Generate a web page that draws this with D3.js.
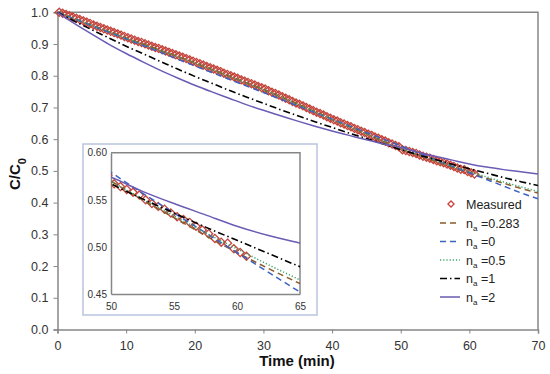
<!DOCTYPE html>
<html><head><meta charset="utf-8">
<script src="https://cdn.jsdelivr.net/npm/d3@7"></script>
<style>
body{margin:0;background:#fff;}
svg{display:block;font-family:"Liberation Sans",Arial,sans-serif;}
</style></head>
<body><svg id="c" width="550" height="374"></svg>
<script>
// ---- data ----
const measuredTime = [0.25,0.75,1.25,1.75,2.25,2.75,3.25,3.75,4.25,4.75,5.25,5.75,6.25,6.75,7.25,7.75,8.25,8.75,9.25,9.75,
10.25,10.75,11.25,11.75,12.25,12.75,13.25,13.75,14.25,14.75,15.25,15.75,16.25,16.75,17.25,17.75,18.25,18.75,19.25,19.75,
20.25,20.75,21.25,21.75,22.25,22.75,23.25,23.75,24.25,24.75,25.25,25.75,26.25,26.75,27.25,27.75,28.25,28.75,29.25,29.75,
30.25,30.75,31.25,31.75,32.25,32.75,33.25,33.75,34.25,34.75,35.25,35.75,36.25,36.75,37.25,37.75,38.25,38.75,39.25,39.75,
40.25,40.75,41.25,41.75,42.25,42.75,43.25,43.75,44.25,44.75,45.25,45.75,46.25,46.75,47.25,47.75,48.25,48.75,49.25,49.75,
50.25,50.75,51.25,51.75,52.25,52.75,53.25,53.75,54.25,54.75,55.25,55.75,56.25,56.75,57.25,57.75,58.25,58.75,59.25,59.75,
60.25,60.75];
const measuredC = [1.000,0.997,0.993,0.989,0.985,0.981,0.977,0.973,0.969,0.965,
0.960,0.956,0.952,0.948,0.944,0.940,0.936,0.932,0.928,0.924,
0.920,0.916,0.912,0.908,0.905,0.901,0.897,0.893,0.889,0.886,
0.882,0.878,0.874,0.870,0.866,0.862,0.858,0.854,0.850,0.846,
0.842,0.838,0.834,0.829,0.825,0.821,0.817,0.813,0.808,0.804,
0.800,0.796,0.792,0.787,0.783,0.779,0.775,0.771,0.766,0.762,
0.758,0.753,0.748,0.744,0.739,0.734,0.729,0.724,0.719,0.714,
0.710,0.705,0.700,0.695,0.690,0.685,0.681,0.676,0.671,0.666,
0.661,0.657,0.652,0.648,0.643,0.639,0.634,0.630,0.625,0.621,
0.616,0.612,0.607,0.603,0.598,0.594,0.589,0.585,0.580,0.576,
0.567,0.564,0.561,0.558,0.555,0.550,0.546,0.543,0.540,0.536,
0.532,0.529,0.526,0.522,0.518,0.514,0.509,0.505,0.504,0.498,
0.494,0.490];

const modelTime = [0,2.5,5,7.5,10,12.5,15,17.5,20,22.5,25,27.5,30,32.5,35,37.5,40,42.5,45,47.5,50,52.5,55,57.5,60,62.5,65,67.5,70];
const na0283 = [1.000,0.979,0.959,0.939,0.919,0.900,0.880,0.861,0.841,0.820,0.799,0.778,0.757,0.734,0.711,0.687,0.663,0.640,0.617,0.593,0.570,0.550,0.531,0.512,0.494,0.477,0.461,0.445,0.430];
const na0 = [1.000,0.979,0.958,0.937,0.916,0.895,0.874,0.852,0.831,0.810,0.789,0.768,0.747,0.726,0.705,0.684,0.663,0.642,0.621,0.600,0.579,0.557,0.536,0.515,0.494,0.473,0.452,0.431,0.412];
const na05 = [1.000,0.980,0.959,0.939,0.918,0.899,0.879,0.860,0.840,0.819,0.798,0.777,0.756,0.733,0.710,0.686,0.662,0.639,0.616,0.593,0.570,0.551,0.533,0.515,0.498,0.481,0.465,0.450,0.435];
const na1 = [1.000,0.972,0.945,0.919,0.893,0.869,0.845,0.821,0.798,0.776,0.754,0.733,0.713,0.693,0.674,0.655,0.637,0.619,0.602,0.585,0.567,0.551,0.536,0.521,0.507,0.493,0.479,0.466,0.454];
const na2 = [1.000,0.964,0.931,0.899,0.870,0.843,0.817,0.793,0.770,0.749,0.729,0.709,0.691,0.674,0.657,0.641,0.626,0.612,0.598,0.585,0.574,0.559,0.546,0.534,0.522,0.512,0.504,0.497,0.490];

const seriesNames = ["=0.283","=0","=0.5","=1","=2"];
const xTicks = [0,10,20,30,40,50,60,70];
const yTicks = [0,0.1,0.2,0.3,0.4,0.5,0.6,0.7,0.8,0.9,1.0];
const insetXTicks = [50,55,60,65];
const insetYTicks = [0.45,0.50,0.55,0.60];

// ---- styles ----
const styles = [
  {data:na0283, color:"#8B5A2B", dash:"6,4", w:1.5},
  {data:na0,    color:"#3B62C4", dash:"6,4", w:1.5},
  {data:na05,   color:"#3FA66A", dash:"1.2,2", w:1.5},
  {data:na1,    color:"#000000", dash:"7,3,1.5,3", w:1.6},
  {data:na2,    color:"#6B5BB5", dash:null, w:1.5}
];
const markerColor = "#C4453C";
const axisColor = "#868686";

const svg = d3.select("#c");

// ---- main plot ----
const x = d3.scaleLinear().domain([0,70]).range([57.5,538]);
const y = d3.scaleLinear().domain([0,1]).range([329.5,12.3]);

svg.append("defs").append("clipPath").attr("id","mainClip")
  .append("rect").attr("x",50).attr("y",5).attr("width",538-50).attr("height",329.5-5);
svg.select("defs").append("clipPath").attr("id","insetClip")
  .append("rect").attr("x",111).attr("y",152.7).attr("width",300-111).attr("height",294-152.7);

const xAxis = svg.append("g").attr("transform","translate(0,329.5)")
  .call(d3.axisBottom(x).tickValues(xTicks).tickSize(4).tickFormat(d3.format("d")));
const yAxis = svg.append("g").attr("transform","translate(57.5,0)")
  .call(d3.axisLeft(y).tickValues(yTicks).tickSize(4).tickFormat(d3.format(".1f")));
[xAxis,yAxis].forEach(a=>{
  a.select(".domain").attr("stroke",axisColor).attr("stroke-width",1.5);
  a.selectAll(".tick line").attr("stroke",axisColor);
  a.selectAll("text").attr("fill","#333").style("font-size","12.5px").style("font-family","Liberation Sans, Arial, sans-serif");
});
xAxis.selectAll("text").attr("dy","1.05em");
yAxis.selectAll("text").attr("x",-9);
// frame top/right
svg.append("path").attr("d",`M57.5,12.3H538V329.5`).attr("fill","none").attr("stroke",axisColor).attr("stroke-width",1.5);

const diamond = d3.symbol().type(d3.symbolDiamond2).size(42);

function drawMarkers(g, xs, ys, clip){
  g.append("g").attr("clip-path",`url(#${clip})`).selectAll("path")
    .data(measuredTime.map((t,i)=>[t,measuredC[i]]))
    .join("path")
    .attr("d",diamond)
    .attr("transform",d=>`translate(${xs(d[0])},${ys(d[1])})`)
    .attr("fill","none").attr("stroke",markerColor).attr("stroke-width",1.3);
}
function drawLines(g, xs, ys, clip){
  const lg = g.append("g").attr("clip-path",`url(#${clip})`);
  styles.forEach(s=>{
    const line = d3.line().x((d,i)=>xs(modelTime[i])).y(d=>ys(d)).curve(d3.curveMonotoneX);
    lg.append("path").attr("d",line(s.data)).attr("fill","none")
      .attr("stroke",s.color).attr("stroke-width",s.w)
      .attr("stroke-dasharray",s.dash);
  });
}
const mainG = svg.append("g");
drawMarkers(mainG, x, y, "mainClip");
drawLines(mainG, x, y, "mainClip");

// axis titles
svg.append("text").attr("x",297).attr("y",366).attr("text-anchor","middle")
  .style("font-size","15px").style("font-weight","bold").attr("fill","#111").text("Time (min)");
const yt = svg.append("text").attr("transform","translate(20,174) rotate(-90)").attr("text-anchor","middle")
  .style("font-size","15px").style("font-weight","bold").attr("fill","#111");
yt.append("tspan").text("C/C");
yt.append("tspan").attr("baseline-shift","sub").style("font-size","11px").text("0");

// ---- inset ----
const xi = d3.scaleLinear().domain([50,65]).range([111,300]);
const yi = d3.scaleLinear().domain([0.45,0.60]).range([294,152.7]);
svg.append("rect").attr("x",83).attr("y",144).attr("width",317-83).attr("height",315-144)
  .attr("fill","#fff").attr("stroke","#B8C4E0").attr("stroke-width",1.5);
const ixA = svg.append("g").attr("transform","translate(0,294)")
  .call(d3.axisBottom(xi).tickValues(insetXTicks).tickSize(0).tickFormat(d3.format("d")));
const iyA = svg.append("g").attr("transform","translate(111,0)")
  .call(d3.axisLeft(yi).tickValues(insetYTicks).tickSize(0).tickFormat(d3.format(".2f")));
[ixA,iyA].forEach(a=>{
  a.select(".domain").attr("stroke",axisColor).attr("stroke-width",1.5);
  a.selectAll("text").attr("fill","#333").style("font-size","10px").style("font-family","Liberation Sans, Arial, sans-serif");
});
ixA.selectAll("text").attr("dy","1.25em");
iyA.selectAll("text").attr("x",-4);
svg.append("path").attr("d",`M111,152.7H300V294`).attr("fill","none").attr("stroke",axisColor).attr("stroke-width",1.5);
const insetG = svg.append("g");
drawMarkers(insetG, xi, yi, "insetClip");
drawLines(insetG, xi, yi, "insetClip");

// ---- legend ----
const lg = svg.append("g");
const rowY = [204,223,241.5,260,278.5,297];
lg.append("path").attr("d",d3.symbol().type(d3.symbolDiamond2).size(24))
  .attr("transform",`translate(451,${rowY[0]})`).attr("fill","none").attr("stroke",markerColor).attr("stroke-width",1.3);
lg.append("text").attr("x",466).attr("y",rowY[0]+4.5).style("font-size","12.5px").attr("fill","#222").text("Measured");
styles.forEach((s,i)=>{
  const yy = rowY[i+1];
  lg.append("line").attr("x1",440).attr("x2",460).attr("y1",yy).attr("y2",yy)
    .attr("stroke",s.color).attr("stroke-width",s.w).attr("stroke-dasharray",s.dash);
  const t = lg.append("text").attr("x",466).attr("y",yy+4.5).style("font-size","12.5px").attr("fill","#222");
  t.append("tspan").text("n");
  t.append("tspan").attr("dy",3).style("font-size","8px").text("a");
  t.append("tspan").attr("dy",-3).text(" " + seriesNames[i]);
});
</script></body></html>
